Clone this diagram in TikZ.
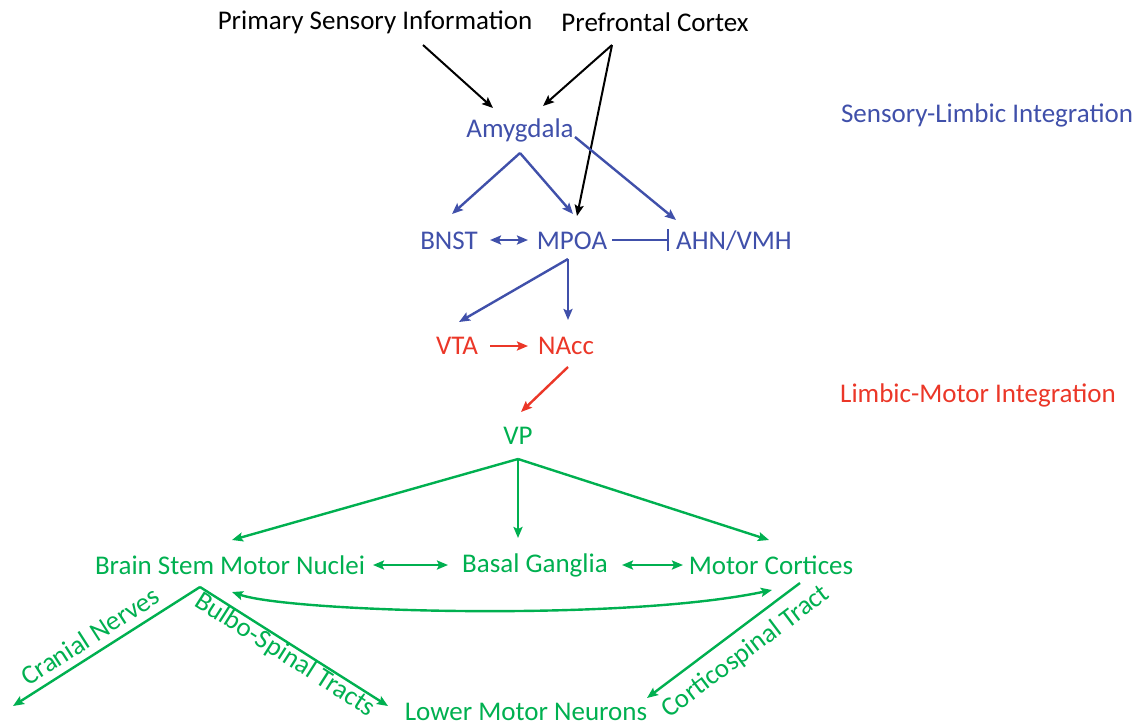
\documentclass[tikz,border=0pt]{standalone}
\usepackage{fontspec}
\setmainfont{Carlito}
\usetikzlibrary{arrows.meta,calc}
\definecolor{cblue}{RGB}{64,80,170}
\definecolor{cred}{RGB}{235,55,40}
\definecolor{cgreen}{RGB}{0,176,80}
\tikzset{
  lbl/.style={font=\fontsize{27}{30}\selectfont, inner sep=0pt},
  blk/.style={lbl, text=black},
  blu/.style={lbl, text=cblue},
  rdt/.style={lbl, text=cred},
  grn/.style={lbl, text=cgreen},
  tip/.style={-{Stealth[length=11pt,width=9pt,inset=2pt]}},
  dtip/.style={{Stealth[length=11pt,width=9pt,inset=2pt]}-{Stealth[length=11pt,width=9pt,inset=2pt]}},
  kline/.style={draw=black, line width=2pt},
  bline/.style={draw=cblue, line width=2.4pt},
  rline/.style={draw=cred, line width=2.4pt},
  gline/.style={draw=cgreen, line width=2.4pt},
}
\begin{document}
\begin{tikzpicture}[x=1pt,y=-1pt]
\useasboundingbox (0,0) rectangle (1145,726);
% nodes
\node[blk] (psi) at (375,22) {Primary Sensory Information};
\node[blk] (pfc) at (655,22) {Prefrontal Cortex};
\node[blu] (sli) at (987,115) {Sensory-Limbic Integration};
\node[blu] (amy) at (520,130) {Amygdala};
\node[blu] (bnst) at (449,241) {BNST};
\node[blu] (mpoa) at (572,241) {MPOA};
\node[blu] (ahn) at (734,241) {AHN/VMH};
\node[rdt] (vta) at (457,346) {VTA};
\node[rdt] (nacc) at (566,346) {NAcc};
\node[rdt] (lmi) at (978,395) {Limbic-Motor Integration};
\node[grn] (vp) at (518,436) {VP};
\node[grn] (bsm) at (230,565) {Brain Stem Motor Nuclei};
\node[grn] (bg) at (535,565) {Basal Ganglia};
\node[grn] (mc) at (771,565) {Motor Cortices};
\node[grn] (lmn) at (526,712) {Lower Motor Neurons};
\node[grn, rotate=32.7] (cn) at (90,636) {Cranial Nerves};
\node[grn, rotate=-32.5] (bst) at (285,655) {Bulbo-Spinal Tracts};
\node[grn, rotate=37] (cst) at (746,652) {Corticospinal Tract};
\coordinate (cnend) at (13,706);
% black connectors
\draw[kline,tip] ([shift={(48,23)}]psi.center) -- ([shift={(-27,-22)}]amy.center);
\draw[kline,tip] ([shift={(-43,23)}]pfc.center) -- ([shift={(23,-24)}]amy.center);
\draw[kline,tip] ([shift={(-43,23)}]pfc.center) -- ([shift={(5,-25)}]mpoa.center);
% blue connectors
\draw[bline,tip] ([shift={(0,23)}]amy.center) -- ([shift={(3,-27)}]bnst.center);
\draw[bline,tip] ([shift={(0,23)}]amy.center) -- ([shift={(1,-27)}]mpoa.center);
\draw[bline,tip] ([shift={(55,7)}]amy.center) -- ([shift={(-58,-21)}]ahn.center);
\draw[bline,dtip] ([shift={(41,-1)}]bnst.center) -- ([shift={(-44,-1)}]mpoa.center);
\draw[bline,-{Bar[width=22pt]}] ([shift={(40,-1)}]mpoa.center) -- ([shift={(-65,-1)}]ahn.center);
\draw[bline,tip] ([shift={(-4,18)}]mpoa.center) -- ([shift={(2,-24)}]vta.center);
\draw[bline,tip] ([shift={(-4,18)}]mpoa.center) -- ([shift={(2,-26)}]nacc.center);
% red connectors
\draw[rline,tip] ([shift={(33,0)}]vta.center) -- ([shift={(-38,0)}]nacc.center);
\draw[rline,tip] ([shift={(2,21)}]nacc.center) -- ([shift={(3,-24)}]vp.center);
% green connectors
\draw[gline,tip] ([shift={(0,23)}]vp.center) -- ([shift={(2,-25)}]bsm.center);
\draw[gline,tip] ([shift={(0,23)}]vp.center) -- ([shift={(-17,-27)}]bg.center);
\draw[gline,tip] ([shift={(0,23)}]vp.center) -- ([shift={(-2,-25)}]mc.center);
\draw[gline,dtip] ([shift={(143,0)}]bsm.center) -- ([shift={(-87,0)}]bg.center);
\draw[gline,dtip] ([shift={(87,0)}]bg.center) -- ([shift={(-88,0)}]mc.center);
\draw[gline,dtip] ([shift={(2,27)}]bsm.center) .. controls (290,612) and (620,622) .. ([shift={(1,25)}]mc.center);
\draw[gline,tip] ([shift={(-30,22)}]bsm.center) -- (cnend);
\draw[gline,tip] ([shift={(-30,22)}]bsm.center) -- ([shift={(-138,-6)}]lmn.center);
\draw[gline,tip] ([shift={(29,18)}]mc.center) -- ([shift={(121,-14)}]lmn.center);
\end{tikzpicture}
\end{document}
